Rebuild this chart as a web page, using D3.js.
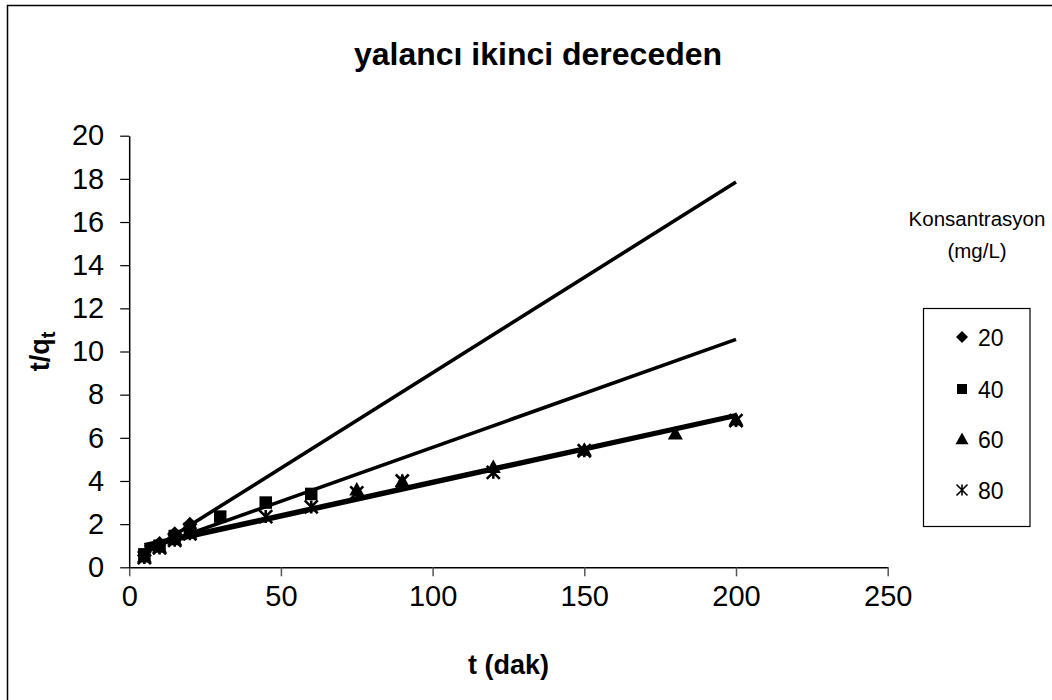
<!DOCTYPE html>
<html>
<head>
<meta charset="utf-8">
<script src="https://cdn.jsdelivr.net/npm/d3@7"></script>
<style>
  html, body { margin: 0; padding: 0; background: #fff; }
  svg { display: block; font-family: "Liberation Sans", Arial, sans-serif; }
</style>
</head>
<body>
<svg id="chart" width="1052" height="700"></svg>
<script>
// Pseudo-second-order kinetics: t/qt versus t for four initial concentrations
const seriesNames = ["20", "40", "60", "80"];

const t20 = [5, 10, 15, 20];
const y20 = [0.55, 1.1, 1.55, 2.0];

const t40 = [5, 10, 15, 20, 30, 45, 60];
const y40 = [0.6, 1.0, 1.45, 1.8, 2.35, 3.0, 3.4];

const t60 = [5, 10, 15, 20, 75, 90, 120, 150, 180, 200];
const y60 = [0.5, 0.95, 1.3, 1.6, 3.6, 4.0, 4.65, 5.45, 6.2, 6.85];

const t80 = [5, 10, 15, 20, 45, 60, 75, 90, 120, 150, 200];
const y80 = [0.45, 0.9, 1.25, 1.55, 2.35, 2.8, 3.45, 4.0, 4.4, 5.4, 6.8];

// Linear fit lines: value at the start and the end of the fitted range
const fitStartT = [5, 5, 5, 5];
const fitEndT = [200, 200, 200, 200];
const fitStartY = [0.62, 0.81, 1.04, 0.94];
const fitEndY = [17.85, 10.56, 7.07, 7.00];

const xTicks = [0, 50, 100, 150, 200, 250];
const yTicks = [0, 2, 4, 6, 8, 10, 12, 14, 16, 18, 20];

const svg = d3.select("#chart");

// outer chart frame (right and bottom edges fall outside the canvas)
svg.append("rect")
  .attr("x", 7.5).attr("y", 5.5)
  .attr("width", 1060).attr("height", 710)
  .attr("fill", "none").attr("stroke", "#000").attr("stroke-width", 1.5);

const plot = { left: 129.2, right: 887.7, top: 135.7, bottom: 567.3 };

const x = d3.scaleLinear().domain([0, 250]).range([plot.left, plot.right]);
const y = d3.scaleLinear().domain([0, 20]).range([plot.bottom, plot.top]);

// x axis
const xAxis = svg.append("g")
  .attr("transform", `translate(0,${plot.bottom})`)
  .call(d3.axisBottom(x).tickValues(xTicks).tickSize(9).tickPadding(9).tickSizeOuter(0));
xAxis.select(".domain").attr("stroke", "#000").attr("stroke-width", 1.5);
xAxis.selectAll(".tick line").attr("stroke", "#555").attr("stroke-width", 1.5);
xAxis.selectAll(".tick text")
  .attr("font-size", 29).attr("fill", "#000")
  .attr("font-family", "'Liberation Sans', Arial, sans-serif");

// y axis
const yAxis = svg.append("g")
  .attr("transform", `translate(${plot.left},0)`)
  .call(d3.axisLeft(y).tickValues(yTicks).tickSize(9).tickPadding(16).tickSizeOuter(0));
yAxis.select(".domain").attr("stroke", "#000").attr("stroke-width", 1.5);
yAxis.selectAll(".tick line").attr("stroke", "#000").attr("stroke-width", 1.2);
yAxis.selectAll(".tick text")
  .attr("font-size", 29).attr("fill", "#000")
  .attr("font-family", "'Liberation Sans', Arial, sans-serif");

// fitted lines
const fitGroup = svg.append("g");
seriesNames.forEach((name, i) => {
  fitGroup.append("line")
    .attr("x1", x(fitStartT[i])).attr("y1", y(fitStartY[i]))
    .attr("x2", x(fitEndT[i])).attr("y2", y(fitEndY[i]))
    .attr("stroke", "#000").attr("stroke-width", 3.6)
    .attr("stroke-linecap", "butt");
});

// marker shapes
function diamond(s) {
  const h = s / 2;
  return `M0,${-h}L${h},0L0,${h}L${-h},0Z`;
}
function square(s) {
  const h = s / 2;
  return `M${-h},${-h}H${h}V${h}H${-h}Z`;
}
function triangle(s) {
  const h = s / 2;
  return `M0,${-h}L${h},${h * 0.8}L${-h},${h * 0.8}Z`;
}
function star(s) {
  const h = s / 2;
  return `M${-h},${-h}L${h},${h}M${h},${-h}L${-h},${h}M0,${-h}V${h}`;
}

function drawMarkers(g, ts, ys, kind, size) {
  ts.forEach((tv, k) => {
    const px = x(tv), py = y(ys[k]);
    if (kind === "star") {
      g.append("path").attr("d", star(size))
        .attr("transform", `translate(${px},${py})`)
        .attr("fill", "none").attr("stroke", "#000").attr("stroke-width", 2.6);
    } else {
      const d = kind === "diamond" ? diamond(size) : kind === "square" ? square(size) : triangle(size);
      g.append("path").attr("d", d)
        .attr("transform", `translate(${px},${py})`)
        .attr("fill", "#000");
    }
  });
}

const markers = svg.append("g");
drawMarkers(markers, t20, y20, "diamond", 15);
drawMarkers(markers, t40, y40, "square", 12.5);
drawMarkers(markers, t60, y60, "triangle", 15);
drawMarkers(markers, t80, y80, "star", 13);

// titles
svg.append("text")
  .attr("x", 538).attr("y", 65)
  .attr("text-anchor", "middle")
  .attr("font-size", 32).attr("font-weight", "bold")
  .text("yalancı ikinci dereceden");

svg.append("text")
  .attr("x", (plot.left + plot.right) / 2).attr("y", 674)
  .attr("text-anchor", "middle")
  .attr("font-size", 27).attr("font-weight", "bold")
  .text("t (dak)");

const yTitle = svg.append("text")
  .attr("transform", `translate(49,${(plot.top + plot.bottom) / 2}) rotate(-90)`)
  .attr("text-anchor", "middle")
  .attr("font-size", 27).attr("font-weight", "bold");
yTitle.append("tspan").text("t/q");
yTitle.append("tspan").attr("font-size", 20).attr("dy", 6).text("t");

// legend
svg.append("text")
  .attr("x", 977).attr("y", 226)
  .attr("text-anchor", "middle").attr("font-size", 20.5)
  .text("Konsantrasyon");
svg.append("text")
  .attr("x", 977).attr("y", 258)
  .attr("text-anchor", "middle").attr("font-size", 20.5)
  .text("(mg/L)");

svg.append("rect")
  .attr("x", 923.5).attr("y", 308.5)
  .attr("width", 106.5).attr("height", 218)
  .attr("fill", "#fff").attr("stroke", "#000").attr("stroke-width", 1.2);

const legendKinds = ["diamond", "square", "triangle", "star"];
const legendY = [337, 389, 439, 490];
seriesNames.forEach((name, i) => {
  const g = svg.append("g").attr("transform", `translate(962,${legendY[i]})`);
  const size = 11;
  if (legendKinds[i] === "star") {
    g.append("path").attr("d", star(size))
      .attr("fill", "none").attr("stroke", "#000").attr("stroke-width", 1.6);
  } else {
    const d = legendKinds[i] === "diamond" ? diamond(size + 1)
      : legendKinds[i] === "square" ? square(size - 1) : triangle(size + 2);
    g.append("path").attr("d", d).attr("fill", "#000");
  }
  g.append("text")
    .attr("x", 16).attr("y", 8.5)
    .attr("font-size", 23)
    .text(name);
});
</script>
</body>
</html>
